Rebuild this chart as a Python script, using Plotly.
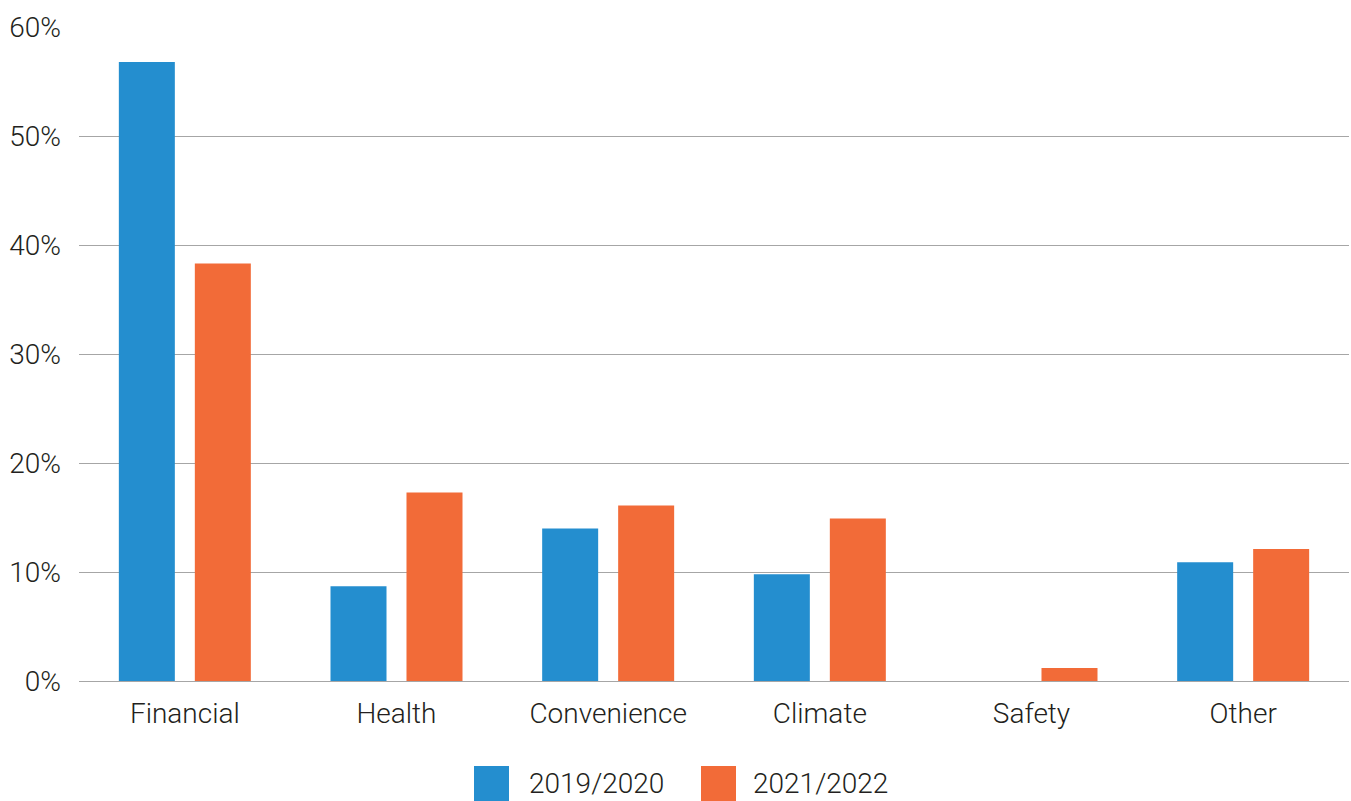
import plotly.graph_objects as go

categories = ["Financial", "Health", "Convenience", "Climate", "Safety", "Other"]
series_names = ["2019/2020", "2021/2022"]
values_2019_2020 = [56.8, 8.7, 14.0, 9.8, 0.0, 10.9]
values_2021_2022 = [38.3, 17.3, 16.1, 14.9, 1.2, 12.1]
y_ticks = [0, 10, 20, 30, 40, 50, 60]
y_tick_labels = ["0%", "10%", "20%", "30%", "40%", "50%", "60%"]

colors = ["#248ECF", "#F26B38"]
font_family = "Roboto, 'Noto Sans', sans-serif"
text_color = "#231F20"
fsize = 28
fweight = 300

W, H = 1351, 801
L, R, T, B = 79, 2, 27, 120
pw, ph = W - L - R, H - T - B

fig = go.Figure()
for name, vals, c in zip(series_names, [values_2019_2020, values_2021_2022], colors):
    fig.add_trace(go.Bar(x=categories, y=[v / 100 for v in vals], name=name,
                         marker=dict(color=c, line=dict(width=0)), showlegend=False))

def px_to_paper_x(px):
    return (px - L) / pw

def px_to_paper_y(py):
    return (H - B - py) / ph

legend_items = [(474, 528), (701, 752)]
shapes = []
annotations = []
for (sx, tx), name, c in zip(legend_items, series_names, colors):
    shapes.append(dict(type="rect", xref="paper", yref="paper",
                       x0=px_to_paper_x(sx), x1=px_to_paper_x(sx + 35),
                       y0=px_to_paper_y(801), y1=px_to_paper_y(766),
                       fillcolor=c, line=dict(width=0), layer="above"))
    annotations.append(dict(xref="paper", yref="paper", x=px_to_paper_x(tx),
                            y=px_to_paper_y(783), xanchor="left", yanchor="middle",
                            text=name, showarrow=False, borderpad=0,
                            font=dict(size=fsize, color=text_color, family=font_family,
                                      weight=fweight)))

tickfont = dict(size=fsize, color=text_color, family=font_family, weight=fweight)

fig.update_layout(
    width=W, height=H,
    margin=dict(l=L, r=R, t=T, b=B),
    paper_bgcolor="white", plot_bgcolor="white",
    barmode="group", bargap=0.282, bargroupgap=0.263,
    font=dict(family=font_family, size=fsize, color=text_color),
    showlegend=False,
    shapes=shapes, annotations=annotations,
    xaxis=dict(showgrid=False, showline=False, zeroline=False, ticks="",
               ticklabelstandoff=13, tickfont=tickfont),
    yaxis=dict(range=[0, 0.6], tickvals=[v / 100 for v in y_ticks], ticktext=y_tick_labels,
               showgrid=True, gridcolor="#A6A6A6", gridwidth=1,
               zeroline=True, zerolinecolor="#A6A6A6", zerolinewidth=1,
               showline=False, ticks="", ticklabelstandoff=17,
               tickfont=tickfont),
)

fig.write_html("out.html")
